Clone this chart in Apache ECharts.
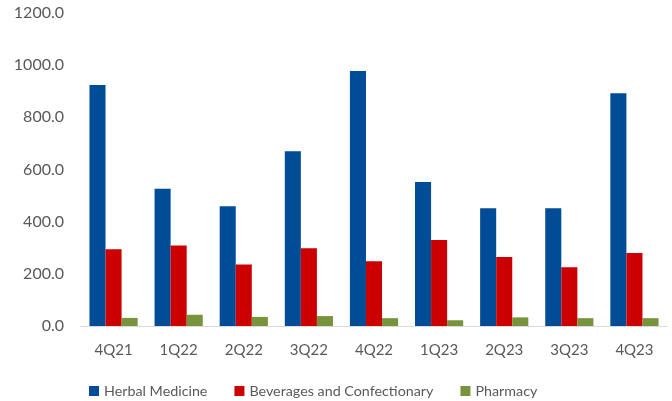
<!DOCTYPE html>
<html>
<head>
<meta charset="utf-8">
<script src="https://cdn.jsdelivr.net/npm/echarts@6/dist/echarts.min.js"></script>
<style>
  html, body { margin: 0; padding: 0; background: #fff; }
  #chart { width: 672px; height: 401px; }
</style>
</head>
<body>
<div id="chart"></div>
<script>
var quarters = ["4Q21", "1Q22", "2Q22", "3Q22", "4Q22", "1Q23", "2Q23", "3Q23", "4Q23"];
var herbal = [924, 526, 459, 670, 978, 552, 451, 451, 892];
var beverages = [294, 309, 236, 298, 248, 330, 265, 225, 280];
var pharmacy = [31, 43, 35, 38, 30, 22, 33, 30, 30];

var font = "Lato, 'Liberation Sans', sans-serif";

var myChart = echarts.init(document.getElementById("chart"));

function bar(name, data, color) {
  return {
    name: name,
    type: "bar",
    data: data,
    barGap: "0%",
    barCategoryGap: "26%",
    itemStyle: { color: color }
  };
}

var option = {
  animation: false,
  grid: { left: 81, right: 5, top: 13, bottom: 75 },
  legend: {
    left: 84,
    top: 379,
    itemWidth: 10,
    itemHeight: 10,
    itemGap: 27,
    icon: "rect",
    textStyle: { color: "#595959", fontSize: 14.3, fontFamily: font },
    data: ["Herbal Medicine", "Beverages and Confectionary", "Pharmacy"]
  },
  xAxis: {
    type: "category",
    data: quarters,
    axisLine: { lineStyle: { color: "#d9d9d9", width: 1 } },
    axisTick: { show: false },
    axisLabel: { color: "#595959", fontSize: 15, fontFamily: font, margin: 17 }
  },
  yAxis: {
    type: "value",
    min: 0,
    max: 1200,
    interval: 200,
    splitLine: { show: false },
    axisLine: { show: false },
    axisTick: { show: false },
    axisLabel: {
      color: "#595959",
      fontSize: 16,
      fontFamily: font,
      margin: 17,
      formatter: function (v) { return v.toFixed(1); }
    }
  },
  series: [
    bar("Herbal Medicine", herbal, "#004C97"),
    bar("Beverages and Confectionary", beverages, "#CC0000"),
    bar("Pharmacy", pharmacy, "#77933C")
  ]
};

myChart.setOption(option);
</script>
</body>
</html>
